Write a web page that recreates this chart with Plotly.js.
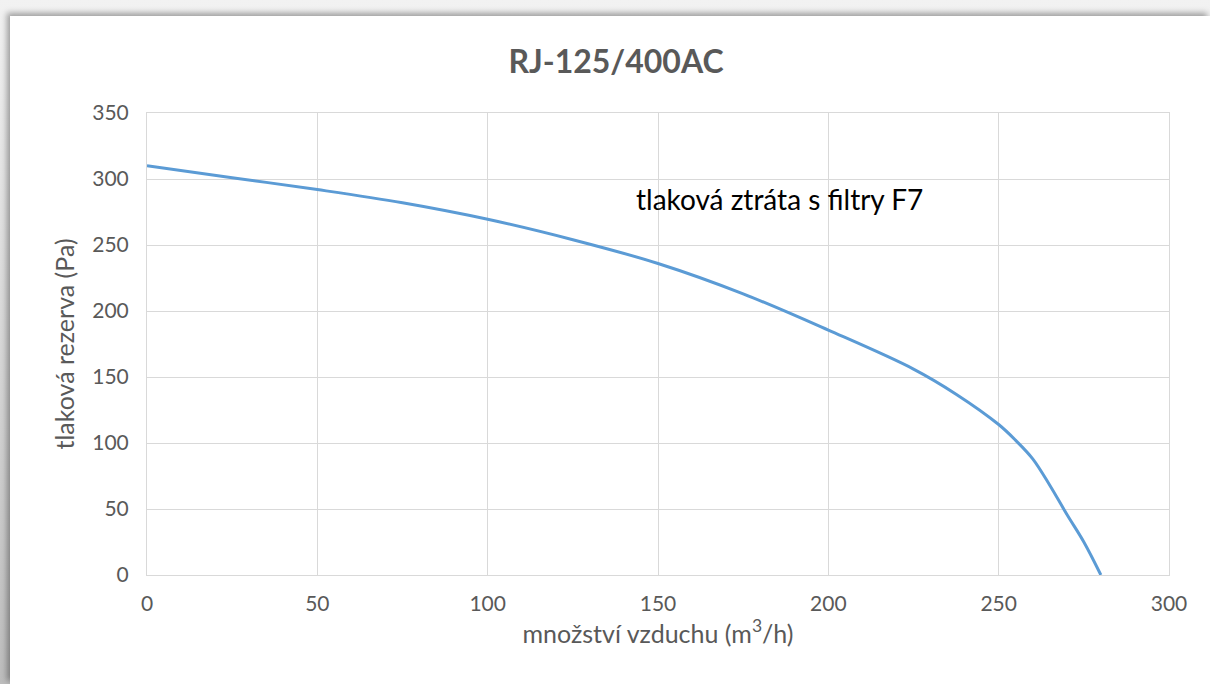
<!DOCTYPE html>
<html>
<head>
<meta charset="utf-8">
<script src="https://cdn.plot.ly/plotly-3.0.1.min.js"></script>
<style>
  html, body { margin:0; padding:0; width:1210px; height:684px; overflow:hidden;
    background: linear-gradient(#f2f2f2, #bdbdbd); }
  #card { position:absolute; left:10px; top:16px; width:1200px; height:668px; background:#fff;
    box-shadow: -3px -3px 6px rgba(0,0,0,0.35); }
  #chart { width:1200px; height:668px; }
</style>
</head>
<body>
<div id="card"><div id="chart"></div></div>
<script>
const chartTitle = "RJ-125/400AC";
const xTitle = "množství vzduchu (m<sup>3</sup>/h)";
const yTitle = "tlaková rezerva (Pa)";
const seriesLabel = "tlaková ztráta s filtry F7";
const airflow = [0, 25, 50, 75, 100, 125, 150, 175, 200, 225, 237.5, 250, 255, 260, 265, 270, 275, 280];
const pressure = [310, 301, 292, 282, 269.5, 254, 236, 213, 185.5, 156, 137, 114, 102, 88, 68, 46, 25, 0];
const xTicks = [0, 50, 100, 150, 200, 250, 300];
const yTicks = [0, 50, 100, 150, 200, 250, 300, 350];

const font = "Lato, 'Open Sans', sans-serif";
const grey = "#595959";

Plotly.newPlot("chart", [{
  x: airflow, y: pressure, type: "scatter", mode: "lines",
  line: { color: "#5B9BD5", width: 3, shape: "spline", smoothing: 1 },
  hoverinfo: "skip"
}], {
  width: 1200, height: 668,
  margin: { l: 137, r: 41, t: 97, b: 109 },
  paper_bgcolor: "#fff", plot_bgcolor: "#fff",
  showlegend: false,
  title: { text: "<b>" + chartTitle + "</b>", font: { family: font, size: 32, color: grey },
    x: 0.505, xref: "container", y: 0.931, yref: "container", yanchor: "middle" },
  xaxis: {
    range: [0, 300], tickvals: xTicks, ticktext: xTicks.map(String),
    showgrid: true, gridcolor: "#d9d9d9", gridwidth: 1,
    showline: true, linecolor: "#d9d9d9", mirror: true, zeroline: false,
    ticks: "outside", ticklen: 10, tickcolor: "rgba(0,0,0,0)",
    tickfont: { family: font, size: 21, color: grey },
    title: { text: xTitle, font: { family: font, size: 25, color: grey }, standoff: 10 }
  },
  yaxis: {
    range: [0, 350], tickvals: yTicks, ticktext: yTicks.map(String),
    showgrid: true, gridcolor: "#d9d9d9", gridwidth: 1,
    showline: true, linecolor: "#d9d9d9", mirror: true, zeroline: false,
    ticks: "outside", ticklen: 13, tickcolor: "rgba(0,0,0,0)",
    tickfont: { family: font, size: 21, color: grey },
    title: { text: yTitle, font: { family: font, size: 25, color: grey }, standoff: 10 }
  },
  annotations: [{
    text: seriesLabel, x: 143, y: 285, xref: "x", yref: "y",
    xanchor: "left", yanchor: "middle", showarrow: false,
    font: { family: font, size: 28, color: "#000" }
  }]
}, { staticPlot: true });
</script>
</body>
</html>
